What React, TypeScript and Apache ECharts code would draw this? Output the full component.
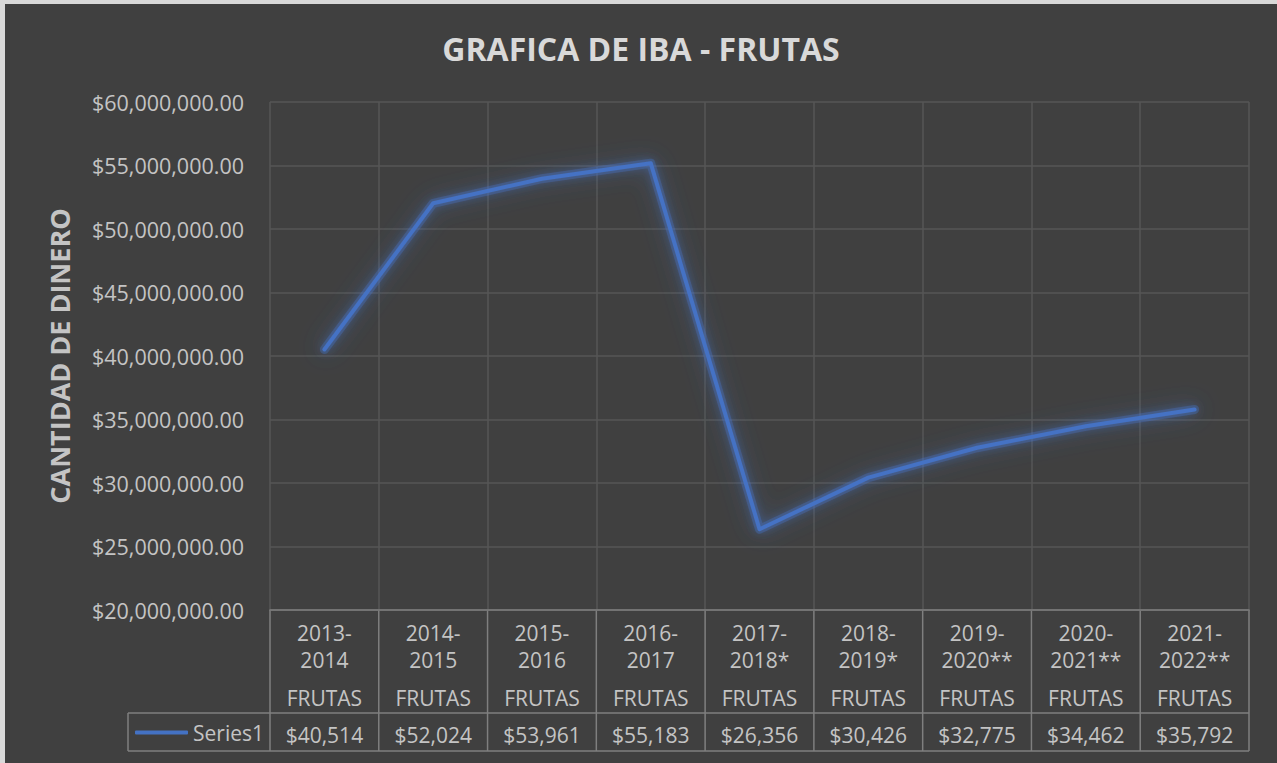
import React, { useEffect, useRef } from "react";
import * as echarts from "echarts";

const title = "GRAFICA DE IBA - FRUTAS";
const yAxisTitle = "CANTIDAD DE DINERO";
const categories = [
  "2013-\n2014",
  "2014-\n2015",
  "2015-\n2016",
  "2016-\n2017",
  "2017-\n2018*",
  "2018-\n2019*",
  "2019-\n2020**",
  "2020-\n2021**",
  "2021-\n2022**",
];
const rowLabel = "FRUTAS";
const seriesName = "Series1";
const values = [40514000, 52024000, 53961000, 55183000, 26356000, 30426000, 32775000, 34462000, 35792000];
const yMin = 20000000;
const yMax = 60000000;
const yStep = 5000000;

const W = 1272;
const H = 759;
const GRID_LEFT = 265;
const GRID_RIGHT = 28;
const GRID_TOP = 98;
const GRID_BOTTOM = 153;

const TEXT = "#c4c4c4";
const BORDER = "#7f7f7f";
const GRIDC = "#565656";
const FONT = "'Open Sans', 'Noto Sans', sans-serif";

export default function App() {
  const ref = useRef<HTMLDivElement>(null);
  useEffect(() => {
    if (!ref.current) return;
    const chart = echarts.init(ref.current, null, { renderer: "svg" });
    const plotL = GRID_LEFT;
    const plotR = W - GRID_RIGHT;
    const plotB = H - GRID_BOTTOM;
    const band = (plotR - plotL) / categories.length;
    const rowSep = 709;
    const tableBottom = 747;
    const legendLeft = 123;
    const lineStyle = { stroke: BORDER, lineWidth: 1.5 };
    const graphics: any[] = [];
    for (let i = 0; i <= categories.length; i++) {
      const x = plotL + i * band;
      graphics.push({ type: "line", shape: { x1: x, y1: plotB, x2: x, y2: tableBottom }, style: lineStyle, silent: true });
    }
    graphics.push({ type: "line", shape: { x1: legendLeft, y1: rowSep, x2: plotR, y2: rowSep }, style: lineStyle, silent: true });
    graphics.push({ type: "line", shape: { x1: legendLeft, y1: tableBottom, x2: plotR, y2: tableBottom }, style: lineStyle, silent: true });
    graphics.push({ type: "line", shape: { x1: legendLeft, y1: rowSep, x2: legendLeft, y2: tableBottom }, style: lineStyle, silent: true });
    graphics.push({
      type: "text",
      x: 54,
      y: 352,
      rotation: Math.PI / 2,
      style: {
        text: yAxisTitle,
        fill: TEXT,
        font: `bold 27px ${FONT}`,
        align: "center",
        verticalAlign: "middle",
      },
      silent: true,
    });

    const fmtAxis = (v: number) =>
      "$" + v.toLocaleString("en-US", { minimumFractionDigits: 2, maximumFractionDigits: 2 });
    const fmtTable = (v: number) => "$" + Math.round(v / 1000).toLocaleString("en-US");

    chart.setOption({
      animation: false,
      backgroundColor: "#404040",
      textStyle: { fontFamily: FONT },
      title: {
        text: title,
        left: "center",
        top: 23,
        textStyle: { color: "#d9d9d9", fontSize: 32, fontWeight: "bold", fontFamily: FONT },
      },
      legend: {
        data: [seriesName],
        left: legendLeft + 2,
        top: 713,
        itemWidth: 53,
        itemHeight: 4,
        icon: "roundRect",
        textStyle: { color: TEXT, fontSize: 21, fontFamily: FONT, lineHeight: 21 },
      },
      grid: { left: GRID_LEFT, right: GRID_RIGHT, top: GRID_TOP, bottom: GRID_BOTTOM, containLabel: false },
      xAxis: [
        {
          type: "category",
          data: categories,
          boundaryGap: true,
          axisLine: { show: true, lineStyle: { color: BORDER, width: 1.5 } },
          axisTick: { show: false },
          splitLine: { show: true, lineStyle: { color: GRIDC, width: 1.5 } },
          axisLabel: { interval: 0, color: TEXT, fontSize: 21, lineHeight: 27, margin: 9, fontFamily: FONT },
        },
        {
          type: "category",
          data: categories.map(() => rowLabel),
          position: "bottom",
          offset: 70,
          boundaryGap: true,
          axisLine: { show: false },
          axisTick: { show: false },
          splitLine: { show: false },
          axisLabel: { interval: 0, color: TEXT, fontSize: 21, lineHeight: 21, margin: 7, fontFamily: FONT },
        },
        {
          type: "category",
          data: values.map(fmtTable),
          position: "bottom",
          offset: 107,
          boundaryGap: true,
          axisLine: { show: false },
          axisTick: { show: false },
          splitLine: { show: false },
          axisLabel: { interval: 0, color: TEXT, fontSize: 21, lineHeight: 21, margin: 7, fontFamily: FONT },
        },
      ],
      yAxis: {
        type: "value",
        min: yMin,
        max: yMax,
        interval: yStep,
        axisLine: { show: false },
        axisTick: { show: false },
        splitLine: { show: true, lineStyle: { color: GRIDC, width: 1.5 } },
        axisLabel: { color: TEXT, fontSize: 21.5, margin: 26, formatter: fmtAxis, fontFamily: FONT },
      },
      series: [
        {
          name: "glow",
          type: "line",
          data: values,
          xAxisIndex: 0,
          symbol: "none",
          silent: true,
          z: 1,
          lineStyle: {
            color: "rgba(68,114,196,0.35)",
            width: 9,
            cap: "round",
            join: "round",
            shadowBlur: 22,
            shadowColor: "rgba(68,114,196,1)",
          },
        },
        {
          name: seriesName,
          type: "line",
          data: values,
          xAxisIndex: 0,
          symbol: "none",
          z: 3,
          lineStyle: {
            color: "#4472C4",
            width: 4,
            cap: "round",
            join: "round",
            shadowBlur: 10,
            shadowColor: "rgba(68,114,196,0.8)",
          },
          itemStyle: { color: "#4472C4" },
        },
      ],
      graphic: graphics,
    });
    return () => chart.dispose();
  }, []);

  return (
    <div style={{ position: "fixed", left: 0, top: 0, width: 1277, height: 763, background: "#d9d9d9", overflow: "hidden" }}>
      <div ref={ref} style={{ position: "absolute", left: 5, top: 4, width: W, height: H }} />
    </div>
  );
}
